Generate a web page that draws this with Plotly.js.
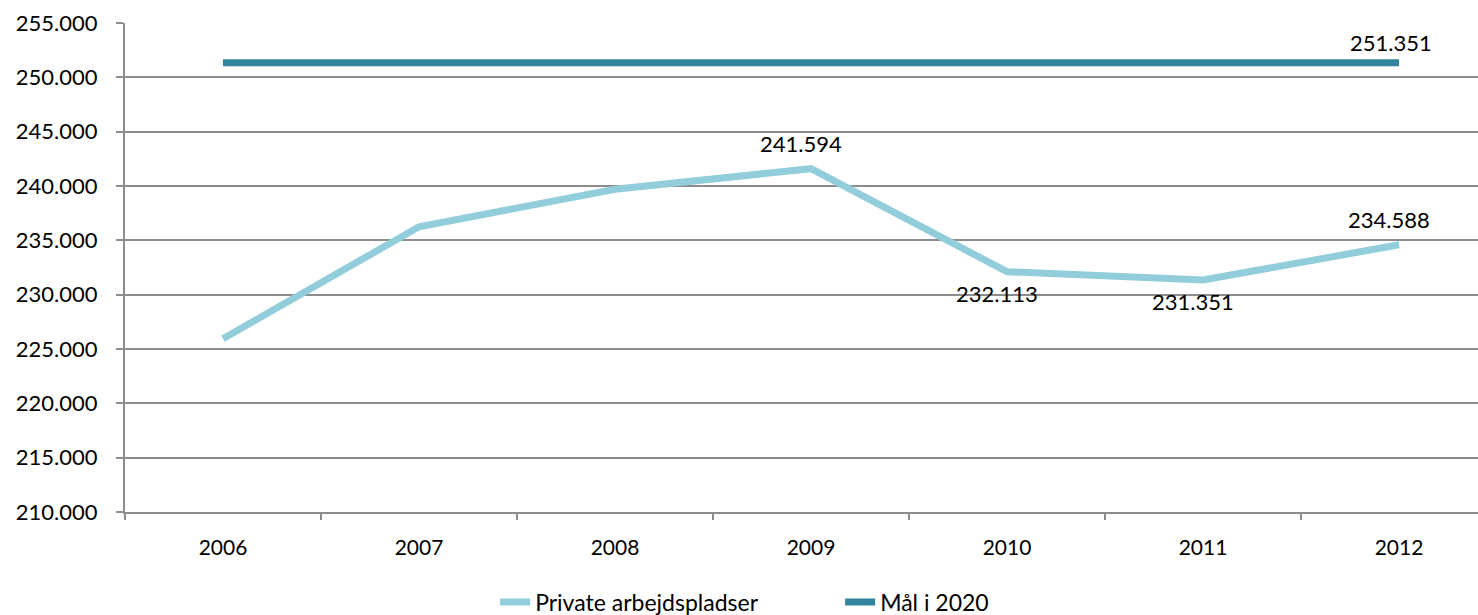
<!DOCTYPE html>
<html>
<head>
<meta charset="utf-8">
<script src="https://cdn.plot.ly/plotly-3.0.1.min.js"></script>
<style>html,body{margin:0;padding:0;background:#fff;}#chart{width:1478px;height:615px;}</style>
</head>
<body>
<div id="chart"></div>
<script>
const years = ['2006', '2007', '2008', '2009', '2010', '2011', '2012'];
const privateJobs = [225950, 236250, 239700, 241594, 232113, 231351, 234588];
const target = [251351, 251351, 251351, 251351, 251351, 251351, 251351];
const privateLabelShown = [false, false, false, true, true, true, true];
const privateLabelBelow = [false, false, false, false, true, true, false];
const targetLabelShown = [false, false, false, false, false, false, true];
const seriesNames = ['Private arbejdspladser', 'Mål i 2020'];
const yTicks = [210000, 215000, 220000, 225000, 230000, 235000, 240000, 245000, 250000, 255000];

const font = 'Lato, "Open Sans", sans-serif';
const fmt = v => Math.round(v).toString().replace(/\B(?=(\d{3})+(?!\d))/g, '.');

const traces = [
  {x: years, y: privateJobs, name: seriesNames[0], type: 'scatter', mode: 'lines',
   line: {color: '#92CDDC', width: 7}, hoverinfo: 'skip'},
  {x: years, y: target, name: seriesNames[1], type: 'scatter', mode: 'lines',
   line: {color: '#31849B', width: 7}, hoverinfo: 'skip'}
];

const annotations = [];
years.forEach((yr, i) => {
  if (privateLabelShown[i]) {
    annotations.push({x: i, y: privateJobs[i], xref: 'x', yref: 'y', text: fmt(privateJobs[i]),
      showarrow: false, xshift: -10, yshift: privateLabelBelow[i] ? -22 : 25,
      font: {family: font, size: 22, color: '#000'}});
  }
  if (targetLabelShown[i]) {
    annotations.push({x: i, y: target[i], xref: 'x', yref: 'y', text: fmt(target[i]),
      showarrow: false, xshift: -8, yshift: 20,
      font: {family: font, size: 22, color: '#000'}});
  }
});

const layout = {
  width: 1478, height: 615,
  separators: ',.',
  margin: {l: 125, r: 0, t: 23, b: 103, autoexpand: false},
  paper_bgcolor: '#fff', plot_bgcolor: '#fff',
  font: {family: font, size: 22, color: '#000'},
  showlegend: true,
  legend: {orientation: 'h', xref: 'container', x: 0.335, xanchor: 'left',
           yref: 'container', y: 0.021, yanchor: 'middle',
           entrywidth: 300, entrywidthmode: 'pixels',
           font: {family: font, size: 23, color: '#000'}, itemwidth: 30, traceorder: 'normal'},
  annotations: annotations,
  xaxis: {
    type: 'category', range: [-0.5, 6.403],
    showgrid: false, showline: true, linecolor: '#8c8c8c', linewidth: 2,
    ticks: 'outside', tickson: 'boundaries', ticklen: 6, tickcolor: '#8c8c8c', tickwidth: 2,
    tickfont: {family: font, size: 21, color: '#000'}, ticklabelstandoff: 16,
    zeroline: false, fixedrange: true
  },
  yaxis: {
    range: [210000, 255000], tickvals: yTicks, tickformat: ',.0f',
    showgrid: true, gridcolor: '#8c8c8c', gridwidth: 2,
    showline: true, linecolor: '#8c8c8c', linewidth: 2,
    ticks: 'outside', ticklen: 7, tickcolor: '#8c8c8c', tickwidth: 2,
    tickfont: {family: font, size: 22, color: '#000'}, ticklabelstandoff: 14,
    zeroline: false, fixedrange: true
  }
};

Plotly.newPlot('chart', traces, layout, {displayModeBar: false, staticPlot: true});
</script>
</body>
</html>
